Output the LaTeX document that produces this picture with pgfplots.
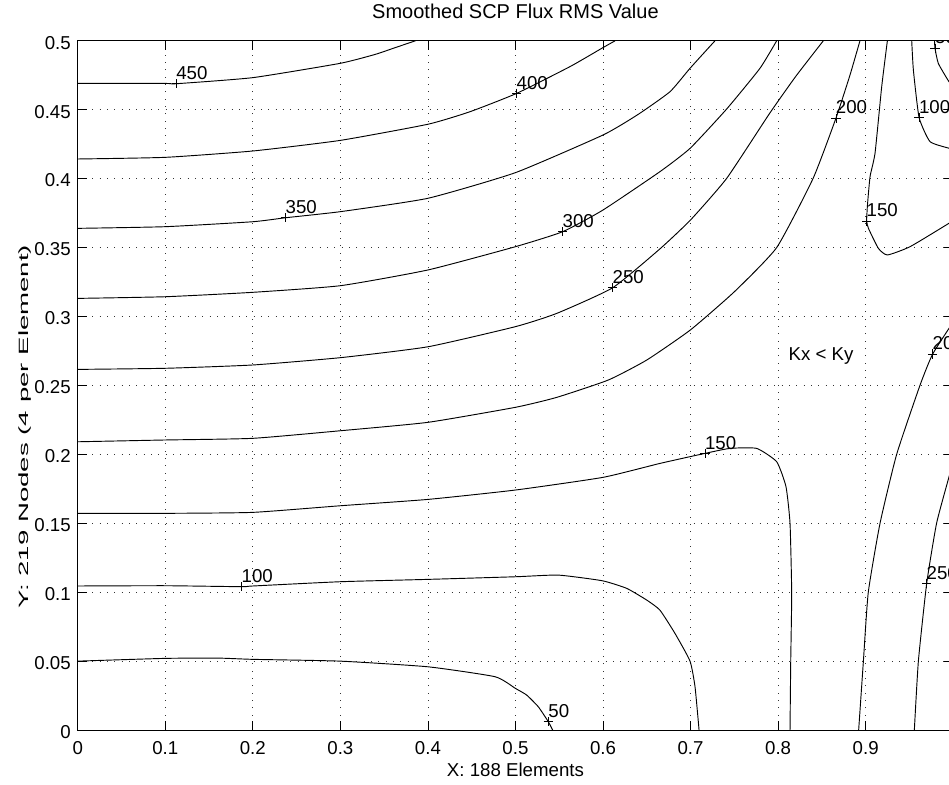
\documentclass[border=0pt]{standalone}
\usepackage{fontspec}
\setmainfont{Liberation Sans}
\usepackage{graphicx}
\usepackage{pgfplots}
\pgfplotsset{compat=1.18}

\begin{document}
\fontsize{14}{16.8}\selectfont
\begin{tikzpicture}
\begin{axis}[
  scale only axis,
  width=656.6pt, height=517pt,
  xmin=0, xmax=1, ymin=0, ymax=0.5,
  axis line style={line width=0.8pt},
  tick align=inside,
  major tick length=7pt,
  tick style={black, line width=0.6pt},
  xtick={0,0.1,0.2,0.3,0.4,0.5,0.6,0.7,0.8,0.9,1},
  xticklabels={0,0.1,0.2,0.3,0.4,0.5,0.6,0.7,0.8,0.9,1},
  ytick={0,0.05,0.1,0.15,0.2,0.25,0.3,0.35,0.4,0.45,0.5},
  yticklabels={0,0.05,0.1,0.15,0.2,0.25,0.3,0.35,0.4,0.45,0.5},
  xticklabel style={anchor=base, inner sep=0pt, yshift=-18pt},
  yticklabel style={anchor=east, inner sep=0pt, xshift=-5pt, yshift=-1.5pt},
  grid=major,
  major grid style={black!80, line width=0.6pt, dash pattern=on 0.6pt off 4.9pt},
  title={Smoothed SCP Flux RMS Value},
  title style={at={(rel axis cs:0.5,1.0213)}, anchor=base, inner sep=0pt, font=\fontsize{15}{18}\selectfont},
  xlabel={X: 188 Elements},
  xlabel style={at={(rel axis cs:0.5,-0.0678)}, anchor=base, inner sep=0pt},
  ylabel={\scalebox{1.48}[0.72]{Y: 219 Nodes (4 per Element)}},
  every axis y label/.style={at={(rel axis cs:-0.06,0.44)}, rotate=90, anchor=center, inner sep=0pt},
  contour/.style={black, line width=0.7pt, smooth, tension=0.3},
]
% contour levels entering from the left edge
\addplot[contour] coordinates {(0,0.469) (0.1,0.469) (0.1127,0.4688) (0.2,0.4732) (0.3,0.4836) (0.34,0.4901) (0.3605,0.4945) (0.386,0.5)};
\addplot[contour] coordinates {(0,0.4142) (0.1,0.4154) (0.2,0.42) (0.3,0.4277) (0.4,0.4394) (0.4481,0.4485) (0.5014,0.4618) (0.5623,0.4812) (0.6,0.495) (0.614,0.5)};
\addplot[contour] coordinates {(0,0.3639) (0.1,0.3651) (0.2,0.3687) (0.2376,0.3716) (0.3,0.376) (0.4,0.3857) (0.5,0.4043) (0.6,0.4316) (0.64,0.4465) (0.6765,0.463) (0.6994,0.48) (0.728,0.5)};
\addplot[contour] coordinates {(0,0.3131) (0.1,0.3143) (0.2,0.3175) (0.3,0.3223) (0.4,0.3337) (0.5,0.3506) (0.554,0.3615) (0.6,0.3772) (0.665,0.405) (0.6994,0.4219) (0.7413,0.4505) (0.7793,0.48) (0.7984,0.5)};
\addplot[contour] coordinates {(0,0.2616) (0.1,0.2624) (0.2,0.2648) (0.3,0.2701) (0.4,0.278) (0.5,0.2926) (0.5471,0.3022) (0.611,0.3208) (0.665,0.349) (0.70,0.37) (0.7413,0.4002) (0.79,0.447) (0.82,0.474) (0.8517,0.5)};
\addplot[contour] coordinates {(0,0.2091) (0.1,0.2104) (0.2,0.2116) (0.3,0.2171) (0.4,0.2232) (0.5,0.2341) (0.5471,0.2413) (0.6061,0.2539) (0.65,0.2684) (0.7,0.2903) (0.75,0.3179) (0.7984,0.35) (0.84,0.4002) (0.866,0.4437) (0.8821,0.4751) (0.8935,0.5)};
\addplot[contour] coordinates {(0,0.1572) (0.1,0.1572) (0.2,0.1579) (0.3,0.1627) (0.4,0.1673) (0.5,0.1741) (0.6,0.1833) (0.665,0.1934) (0.7166,0.2007) (0.745,0.2043) (0.7755,0.2043) (0.7984,0.1946) (0.809,0.1765) (0.8136,0.15) (0.8155,0.0992) (0.8144,0.05) (0.8136,0)};
\addplot[contour] coordinates {(0,0.1045) (0.1,0.1047) (0.1873,0.104) (0.2,0.1045) (0.3,0.1076) (0.4,0.1093) (0.5,0.1112) (0.549,0.1124) (0.5992,0.1083) (0.627,0.1028) (0.6499,0.0943) (0.665,0.087) (0.6822,0.0701) (0.6994,0.05) (0.7051,0.0314) (0.7097,0)};
\addplot[contour] coordinates {(0,0.05) (0.1,0.052) (0.1606,0.0522) (0.2,0.0513) (0.3,0.05) (0.4,0.0459) (0.4767,0.0387) (0.5,0.0302) (0.5128,0.0254) (0.5261,0.0169) (0.5376,0.006) (0.5425,0)};
% contour levels near the right edge
\addplot[contour] coordinates {(0.892,0) (0.8974,0.05) (0.903,0.1) (0.9164,0.15) (0.9354,0.2) (0.962,0.25) (0.9765,0.2727) (1.0,0.296)};
\addplot[contour] coordinates {(0.9556,0) (0.9602,0.05) (0.9697,0.1064) (0.981,0.15) (0.9952,0.1837) (1.0,0.195)};
\addplot[contour] coordinates {(0.9248,0.5) (0.9183,0.4666) (0.9107,0.4184) (0.905,0.4014) (0.9019,0.3796) (0.9012,0.3692) (0.9031,0.364) (0.9145,0.3494) (0.9248,0.3446) (0.9507,0.3506) (0.9952,0.3676) (1.0,0.37)};
\addplot[contour] coordinates {(0.9526,0.5) (0.9545,0.4787) (0.961,0.4443) (0.9735,0.4268) (0.9952,0.422) (1.0,0.4212)};
\addplot[contour] coordinates {(0.9786,0.5) (0.9792,0.4945) (0.983,0.4835) (0.9952,0.4702) (1.0,0.467)};
% level labels
\addplot[only marks, mark=+, mark size=3.5pt, black, mark options={line width=0.5pt},
  clip marker paths=true,
  point meta=explicit symbolic,
  nodes near coords={\makebox[0pt][l]{\raisebox{3pt}{\pgfplotspointmeta}}},
  every node near coord/.append style={inner sep=0pt, anchor=south}]
  coordinates {
  (0.1127,0.4688) [450]
  (0.5014,0.4618) [400]
  (0.2376,0.3716) [350]
  (0.554,0.3615) [300]
  (0.611,0.3208) [250]
  (0.866,0.4437) [200]
  (0.7166,0.2007) [150]
  (0.1873,0.104) [100]
  (0.5376,0.006) [50]
  (0.9012,0.3692) [150]
  (0.961,0.4443) [100]
  (0.9792,0.4945) [50]
  (0.9765,0.2727) [200]
  (0.9697,0.1064) [250]
  };
\node[anchor=base west, inner sep=0pt] at (axis cs:0.8117,0.2677) {Kx < Ky};
\coordinate (bbsw) at (rel axis cs:-0.08875,-0.07834);
\coordinate (bbne) at (rel axis cs:0.99520,1.05905);
\end{axis}
\pgfresetboundingbox
\path[use as bounding box] (bbsw) rectangle (bbne);
\end{tikzpicture}
\end{document}
